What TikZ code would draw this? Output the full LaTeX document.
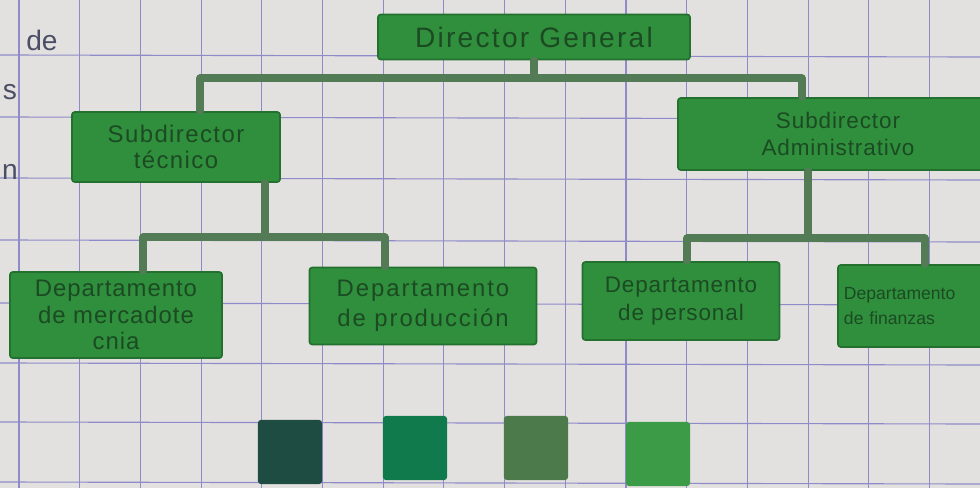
\documentclass[tikz,border=0pt]{standalone}
\usepackage{fontspec}
\setmainfont{Liberation Sans}
\definecolor{paper}{HTML}{E3E1DF}
\definecolor{gridc}{HTML}{8F8BC9}
\definecolor{boxg}{HTML}{2F8F3C}
\definecolor{boxd}{HTML}{23702F}
\definecolor{txtg}{HTML}{1C4A23}
\definecolor{conng}{HTML}{537C56}
\definecolor{swA}{HTML}{1E4B42}
\definecolor{swB}{HTML}{117A4C}
\definecolor{swC}{HTML}{4C7A4B}
\definecolor{swD}{HTML}{3B9B46}
\definecolor{pen}{HTML}{4A4F66}
\tikzset{
  orgbox/.style={rectangle, rounded corners=2pt, fill=boxg, draw=boxd, line width=1.2pt,
    text=txtg, align=center, inner sep=1pt,
    font=\addfontfeature{LetterSpace=6}\fontsize{17}{19}\selectfont},
  conn/.style={draw=conng, line width=5pt, line cap=round},
  swatch/.style={rectangle, rounded corners=2pt, draw=none, minimum width=1.6cm, minimum height=1.6cm},
  gridline/.style={draw=gridc, line width=0.8pt},
  margin/.style={text=pen, font=\fontsize{20}{22}\selectfont, inner sep=0pt}
}
\begin{document}
\begin{tikzpicture}[x=0.025cm, y=-0.025cm]
\useasboundingbox (0,0) rectangle (980,488);
\begin{scope}
\clip (0,0) rectangle (980,488);
\fill[paper] (0,0) rectangle (980,488);
% grid
\foreach \i in {0,...,16} {
  \path[gridline] ({19+60.7*\i},0) -- ({19+60.7*\i},488);
}
\foreach \y in {55,117,178,240,303,363,422,482} {
  \path[gridline] (0,\y) -- (980,\y+2);
}
% margin fragments
\node[margin] (m1) at (42,40) {de};
\node[margin] (m2) at (10,92) {s};
\node[margin] (m3) at (10,172) {n};
% boxes
\node[orgbox, minimum width=7.8cm, minimum height=1.125cm, font=\addfontfeature{LetterSpace=8}\fontsize{20}{22}\selectfont] (dg) at (534,37) {Director General};
\node[orgbox, minimum width=5.2cm, minimum height=1.75cm] (st) at (176,147) {Subdirector\\técnico};
\node[orgbox, minimum width=8cm, minimum height=1.8cm, font=\addfontfeature{LetterSpace=4}\fontsize{16}{19}\selectfont] (sa) at (838,134) {Subdirector\\Administrativo};
\node[orgbox, minimum width=5.3cm, minimum height=2.15cm, font=\addfontfeature{LetterSpace=4}\fontsize{17}{19}\selectfont] (d1) at (116,315) {Departamento\\de mercadote\\cnia};
\node[orgbox, minimum width=5.675cm, minimum height=1.925cm, font=\addfontfeature{LetterSpace=8}\fontsize{17}{21}\selectfont] (d2) at (423,306) {Departamento\\de producción};
\node[orgbox, minimum width=4.925cm, minimum height=1.95cm, font=\addfontfeature{LetterSpace=4}\fontsize{16}{20}\selectfont] (d3) at (681,301) {Departamento\\de personal};
\node[orgbox, minimum width=5.2cm, minimum height=2.05cm, align=left, text width=4.9cm, font=\fontsize{12.5}{18}\selectfont] (d4) at (942,306) {Departamento\\de finanzas};
% bus coordinates
\coordinate (b1l) at (200,78);
\coordinate (b1r) at (802,78);
\coordinate (b2l) at (143,237);
\coordinate (b2r) at (385,237);
\coordinate (b3l) at (687,238);
\coordinate (b3r) at (925,238);
% connectors
\path[conn] (dg.south) -- (dg.south |- b1l);
\path[conn] (b1l) -- (b1r);
\path[conn] (b1l) -- (b1l |- st.north);
\path[conn] (b1r) -- (b1r |- sa.north);
\path[conn] (st.south -| 265,0) -- (265,237);
\path[conn] (b2l) -- (b2r);
\path[conn] (b2l) -- (b2l |- d1.north);
\path[conn] (b2r) -- (b2r |- d2.north);
\path[conn] (sa.south -| 808,0) -- (808,238);
\path[conn] (b3l) -- (b3r);
\path[conn] (b3l) -- (b3l |- d3.north);
\path[conn] (b3r) -- (b3r |- d4.north);
% swatches
\node[swatch, fill=swA] (s1) at (290,452) {};
\node[swatch, fill=swB] (s2) at (415,448) {};
\node[swatch, fill=swC] (s3) at (536,448) {};
\node[swatch, fill=swD] (s4) at (658,454) {};
\end{scope}
\end{tikzpicture}
\end{document}
